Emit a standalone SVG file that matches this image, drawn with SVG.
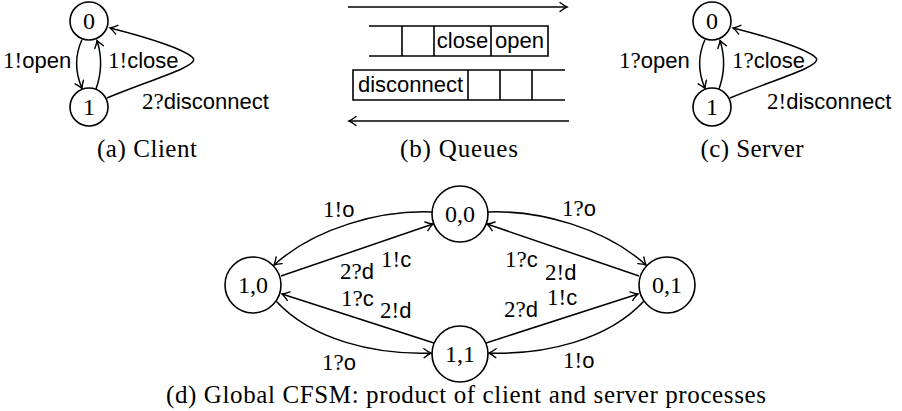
<svg xmlns="http://www.w3.org/2000/svg" width="902" height="411" viewBox="0 0 902 411">
<style>
.nd{fill:#fff;stroke:#000;stroke-width:1.6}
.ea{fill:none;stroke:#000;stroke-width:1.5;marker-end:url(#arr)}
.nl{font-family:"Liberation Serif",serif;font-size:24px;text-anchor:middle}
.lb{font-family:"Liberation Sans",sans-serif;font-size:22px}
.m{font-family:"Liberation Serif",serif;font-size:23px}
.cap{font-family:"Liberation Serif",serif;font-size:25px;text-anchor:middle}
.q{fill:none;stroke:#000;stroke-width:1.6}
</style>
<defs>
<marker id="arr" markerUnits="userSpaceOnUse" markerWidth="14" markerHeight="14" viewBox="-8 -7 10 14" refX="0" refY="0" orient="auto" overflow="visible">
<path d="M -7 -4.5 Q -2.5 -1 0 0 Q -2.5 1 -7 4.5" fill="none" stroke="#000" stroke-width="1.4" stroke-linecap="round"/>
</marker>
</defs>

<!-- (a) Client -->
<g id="client">
<g id="client-edges">
<path class="ea" d="M 82 39.5 C 75 55, 75 72, 82 88.5"/>
<path class="ea" d="M 96 89 C 102 72, 102 56, 97 40.5"/>
<path class="ea" d="M 107 98 C 150 80, 200 66, 193 58 C 186 50, 150 38, 110 28"/>
</g>
<g id="c0"><circle class="nd" cx="89" cy="21" r="19"/><text class="nl" x="89" y="29">0</text></g>
<g id="c1"><circle class="nd" cx="89" cy="107" r="19"/><text class="nl" x="89" y="115">1</text></g>
<text class="lb" x="3" y="68"><tspan class="m">1!</tspan>open</text>
<text class="lb" x="108" y="68"><tspan class="m">1!</tspan>close</text>
<text class="lb" x="142" y="109"><tspan class="m">2?</tspan>disconnect</text>
<text class="cap" x="147" y="157" textLength="100">(a) Client</text>
</g>

<!-- (b) Queues -->
<g id="queues">
<path class="ea" d="M 348 7 H 567"/>
<path class="q" d="M 369 26 H 548 V 56 H 369 M 402 26 V 56 M 434 26 V 56 M 491 26 V 56"/>
<text class="lb" x="462.5" y="48" text-anchor="middle">close</text>
<text class="lb" x="519.5" y="48" text-anchor="middle">open</text>
<path class="q" d="M 565 70 H 353 V 100 H 565 M 468 70 V 100 M 500 70 V 100 M 532 70 V 100"/>
<text class="lb" x="410.5" y="92" text-anchor="middle">disconnect</text>
<path class="ea" d="M 569 121 H 349"/>
<text class="cap" x="459" y="157" textLength="118">(b) Queues</text>
</g>

<!-- (c) Server -->
<g id="server">
<g id="server-edges">
<path class="ea" d="M 705 39.5 C 698 55, 698 72, 705 88.5"/>
<path class="ea" d="M 719 89 C 725 72, 725 56, 720 40.5"/>
<path class="ea" d="M 730 98 C 773 80, 823 66, 816 58 C 809 50, 773 38, 733 28"/>
</g>
<g id="s0"><circle class="nd" cx="712" cy="21" r="19"/><text class="nl" x="712" y="29">0</text></g>
<g id="s1"><circle class="nd" cx="712" cy="107" r="19"/><text class="nl" x="712" y="115">1</text></g>
<text class="lb" x="619" y="68"><tspan class="m">1?</tspan>open</text>
<text class="lb" x="732" y="68"><tspan class="m">1?</tspan>close</text>
<text class="lb" x="767" y="109"><tspan class="m">2!</tspan>disconnect</text>
<text class="cap" x="752" y="157" textLength="103">(c) Server</text>
</g>

<!-- (d) Global CFSM -->
<g id="global-edges">
<path class="ea" d="M 432 212 C 380 210, 315 228, 274 265"/>
<path class="ea" d="M 281 276 L 433 224"/>
<path class="ea" d="M 434 343 L 282 294"/>
<path class="ea" d="M 276 301 C 312 340, 375 355, 431 353"/>
<path class="ea" d="M 488 212 C 540 210, 605 228, 646 265"/>
<path class="ea" d="M 639 276 L 487 224"/>
<path class="ea" d="M 486 343 L 638 294"/>
<path class="ea" d="M 644 301 C 608 340, 545 355, 489 353"/>
</g>
<g id="n00"><circle class="nd" cx="460" cy="214" r="28"/><text class="nl" x="460" y="222">0,0</text></g>
<g id="n10"><circle class="nd" cx="253" cy="285" r="28"/><text class="nl" x="253" y="293">1,0</text></g>
<g id="n01"><circle class="nd" cx="667" cy="285" r="28"/><text class="nl" x="667" y="293">0,1</text></g>
<g id="n11"><circle class="nd" cx="460" cy="354" r="28"/><text class="nl" x="460" y="362">1,1</text></g>
<g id="global-labels">
<text class="lb" x="323" y="217"><tspan class="m">1!</tspan>o</text>
<text class="lb" x="340" y="279"><tspan class="m">2?</tspan>d</text>
<text class="lb" x="381" y="267"><tspan class="m">1!</tspan>c</text>
<text class="lb" x="341" y="306"><tspan class="m">1?</tspan>c</text>
<text class="lb" x="380" y="318"><tspan class="m">2!</tspan>d</text>
<text class="lb" x="322" y="370"><tspan class="m">1?</tspan>o</text>
<text class="lb" x="562" y="216"><tspan class="m">1?</tspan>o</text>
<text class="lb" x="505" y="267"><tspan class="m">1?</tspan>c</text>
<text class="lb" x="545" y="280"><tspan class="m">2!</tspan>d</text>
<text class="lb" x="504" y="317"><tspan class="m">2?</tspan>d</text>
<text class="lb" x="547" y="305"><tspan class="m">1!</tspan>c</text>
<text class="lb" x="563" y="368"><tspan class="m">1!</tspan>o</text>
</g>
<text class="cap" x="466" y="403" textLength="600">(d) Global CFSM: product of client and server processes</text>
</svg>
